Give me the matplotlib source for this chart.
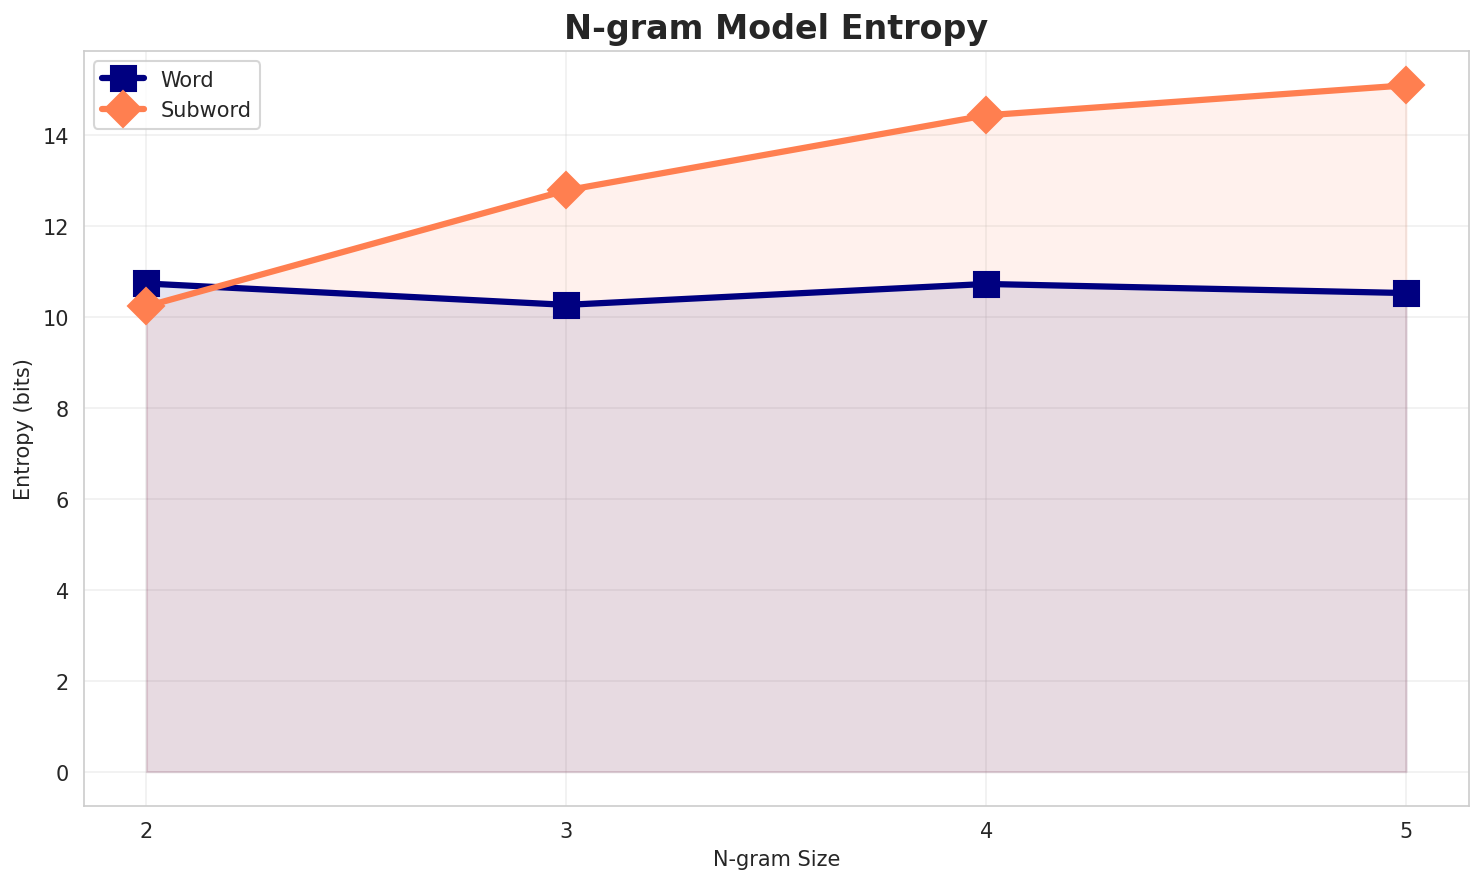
import matplotlib
matplotlib.use("Agg")
import matplotlib.pyplot as plt
import seaborn as sns

ngram_sizes = [2, 3, 4, 5]
word_entropy = [10.74, 10.27, 10.73, 10.53]
subword_entropy = [10.24, 12.79, 14.44, 15.10]

sns.set_style("whitegrid")

fig, ax = plt.subplots(figsize=(14.84 / 1.5, 8.85 / 1.5), dpi=150)

# shaded areas under each series
ax.fill_between(ngram_sizes, word_entropy, color="navy", alpha=0.1)
ax.fill_between(ngram_sizes, subword_entropy, color="coral", alpha=0.1)

ax.plot(ngram_sizes, word_entropy, marker="s", color="navy", lw=3,
        markersize=12, label="Word")
ax.plot(ngram_sizes, subword_entropy, marker="D", color="coral", lw=3,
        markersize=12, label="Subword")

ax.set_title("N-gram Model Entropy", fontsize=16, fontweight="bold")
ax.set_xlabel("N-gram Size")
ax.set_ylabel("Entropy (bits)")
ax.set_xticks(ngram_sizes)
ax.grid(True, alpha=0.3)
ax.legend(loc="upper left")

# match the tight-cropped layout of the original
fig.subplots_adjust(left=83.5 / 1484, right=1469 / 1484,
                    top=1 - 52 / 885, bottom=1 - 807 / 885)
fig.savefig("out.png")
